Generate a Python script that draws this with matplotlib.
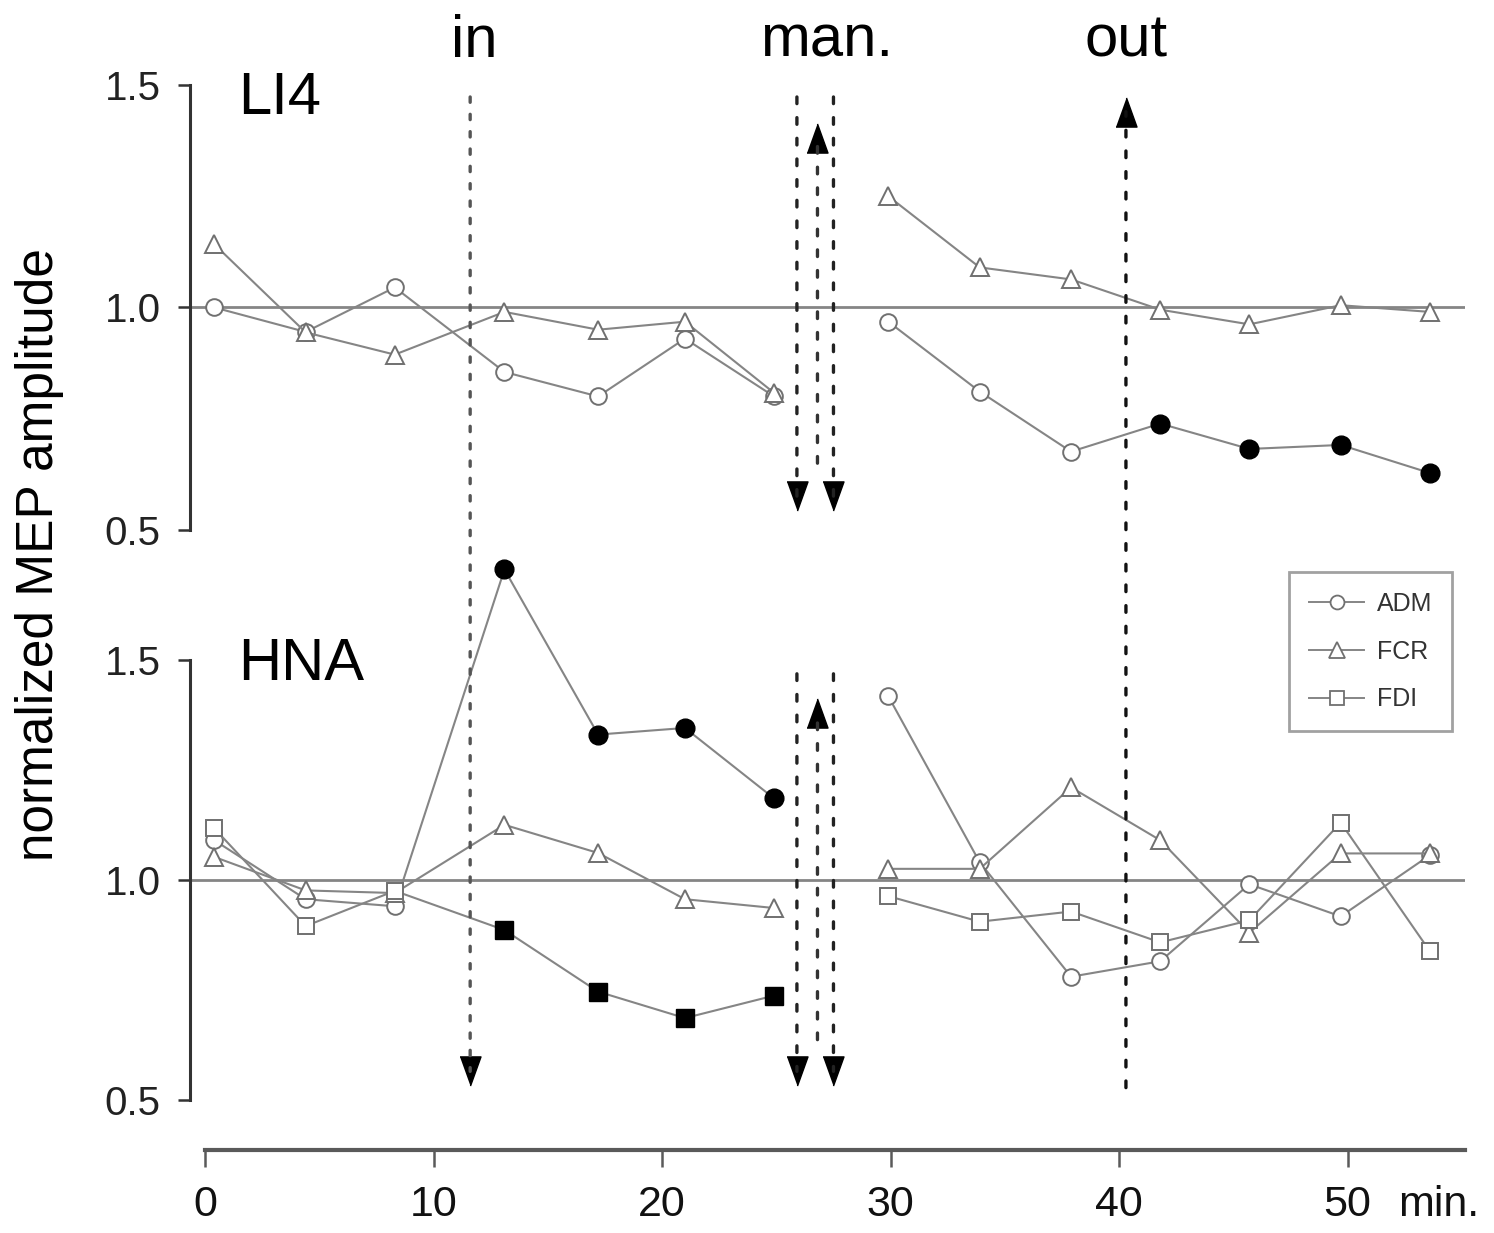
import matplotlib

matplotlib.use("Agg")

import matplotlib.pyplot as plt
from matplotlib.lines import Line2D
from matplotlib.patches import ConnectionPatch

plt.rcParams["font.family"] = ["Liberation Sans", "DejaVu Sans"]

# sampling times (min); the first 7 points are before the manipulation
MINUTES = [0.4, 4.4, 8.3, 13.1, 17.2, 21.0, 24.9,
           29.9, 33.9, 37.9, 41.8, 45.7, 49.7, 53.6]
SPLIT = 7

# LI4 panel
LI4_ADM = [1.00, 0.945, 1.045, 0.855, 0.80, 0.93, 0.80,
           0.968, 0.811, 0.676, 0.739, 0.682, 0.691, 0.628]
LI4_FCR = [1.142, 0.944, 0.894, 0.99, 0.95, 0.968, 0.808,
           1.25, 1.09, 1.063, 0.995, 0.962, 1.005, 0.99]
LI4_ADM_SIG = [10, 11, 12, 13]

# HNA panel
HNA_ADM = [1.09, 0.956, 0.94, 1.705, 1.33, 1.345, 1.185,
           1.417, 1.04, 0.78, 0.815, 0.99, 0.917, 1.056]
HNA_FCR = [1.052, 0.976, 0.97, 1.125, 1.061, 0.956, 0.936,
           1.025, 1.025, 1.21, 1.09, 0.88, 1.06, 1.06]
HNA_FDI = [1.117, 0.895, 0.975, 0.886, 0.746, 0.686, 0.737,
           0.963, 0.905, 0.928, 0.858, 0.908, 1.13, 0.838]
HNA_SIG = [3, 4, 5, 6]

Y_TICKS = [0.5, 1.0, 1.5]
X_TICKS = [0, 10, 20, 30, 40, 50]

# needle events (min)
IN_X = 11.6
MAN_DOWN_X = [25.9, 27.5]
MAN_UP_X = 26.8
OUT_X = 40.3

LINE = "#858585"
EDGE = "#707070"
SPINE = "#333333"

# slim arrow heads
HEAD_DOWN = [(-0.36, 0.5), (0.36, 0.5), (0, -0.5)]
HEAD_UP = [(-0.36, -0.5), (0.36, -0.5), (0, 0.5)]


def draw_series(ax, values, marker, ms, sig=()):
    for seg in (slice(0, SPLIT), slice(SPLIT, None)):
        ax.plot(MINUTES[seg], values[seg], color=LINE, lw=1.5,
                marker=marker, ms=ms, mfc="white", mec=EDGE, mew=1.4,
                zorder=3, clip_on=False)
    if sig:
        ax.plot([MINUTES[i] for i in sig], [values[i] for i in sig],
                ls="none", marker=marker, ms=ms + 1.5, color="black",
                zorder=4, clip_on=False)


def style_panel(ax):
    ax.set_facecolor("none")
    ax.set_xlim(-0.66, 55.14)
    for side in ("top", "right"):
        ax.spines[side].set_visible(False)
    ax.spines["left"].set_bounds(0.5, 1.5)
    ax.spines["left"].set_linewidth(2.2)
    ax.spines["left"].set_color(SPINE)
    ax.set_yticks(Y_TICKS)
    ax.set_yticklabels([f"{v:.1f}" for v in Y_TICKS])
    ax.tick_params(axis="y", direction="out", length=9, width=1.8,
                   color=SPINE, pad=12, labelsize=29, labelcolor="#222222")
    ax.axhline(1.0, color=LINE, lw=2.0, zorder=1)


def arrow(fig, x, ax_a, y_a, ax_b, y_b, head, color, dash):
    con = ConnectionPatch(xyA=(x, y_a), coordsA=ax_a.transData,
                          xyB=(x, y_b), coordsB=ax_b.transData,
                          color=color, lw=2.4, linestyle=(0, dash))
    fig.add_artist(con)
    ax_b.plot(x, y_b, marker=head, ms=21, color="black", zorder=6,
              clip_on=False)


def main():
    fig = plt.figure(figsize=(14.94, 12.33), dpi=100)
    ax_top = fig.add_axes([0.1272, 0.5702, 0.8534, 0.3609])
    ax_bot = fig.add_axes([0.1272, 0.1079, 0.8534, 0.4503])

    ax_top.set_ylim(0.5, 1.5)
    ax_bot.set_ylim(0.5, 1.7612)
    style_panel(ax_top)
    style_panel(ax_bot)

    ax_top.spines["bottom"].set_visible(False)
    ax_top.set_xticks([])

    ax_bot.spines["bottom"].set_position(("outward", 36))
    ax_bot.spines["bottom"].set_bounds(0, 55.14)
    ax_bot.spines["bottom"].set_linewidth(3.0)
    ax_bot.spines["bottom"].set_color("#5a5a5a")
    ax_bot.set_xticks(X_TICKS)
    ax_bot.set_xticklabels([str(t) for t in X_TICKS])
    ax_bot.tick_params(axis="x", direction="out", length=12, width=1.8,
                       color="#5a5a5a", pad=13, labelsize=31,
                       labelcolor="#111111")
    ax_bot.annotate("min.", xy=(52.2, 0.5), xycoords="data",
                    xytext=(0, -(36 + 12 + 13)), textcoords="offset points",
                    va="top", ha="left", fontsize=31, color="#111111",
                    annotation_clip=False)

    draw_series(ax_top, LI4_ADM, "o", 12, LI4_ADM_SIG)
    draw_series(ax_top, LI4_FCR, "^", 13)

    draw_series(ax_bot, HNA_ADM, "o", 12, HNA_SIG)
    draw_series(ax_bot, HNA_FCR, "^", 13)
    draw_series(ax_bot, HNA_FDI, "s", 11.5, HNA_SIG)

    ax_top.text(1.44, 1.435, "LI4", fontsize=43, va="baseline", ha="left")
    ax_bot.text(1.44, 1.453, "HNA", fontsize=43, va="baseline", ha="left")

    for x, label in ((IN_X + 0.2, "in"), (27.2, "man."), (OUT_X, "out")):
        ax_top.text(x, 1.563, label, fontsize=43, ha="center",
                    va="baseline", clip_on=False)

    # needle insertion, manipulation and withdrawal markers
    dots = (1.6, 3.6)
    dashes = (2.0, 4.2)
    arrow(fig, IN_X, ax_top, 1.473, ax_bot, 0.565, HEAD_DOWN, "#555555", dots)
    for x in MAN_DOWN_X:
        arrow(fig, x, ax_top, 1.473, ax_top, 0.576, HEAD_DOWN, "#222222", dashes)
        arrow(fig, x, ax_bot, 1.468, ax_bot, 0.565, HEAD_DOWN, "#222222", dashes)
    arrow(fig, MAN_UP_X, ax_top, 0.65, ax_top, 1.38, HEAD_UP, "#333333", dashes)
    arrow(fig, MAN_UP_X, ax_bot, 0.637, ax_bot, 1.38, HEAD_UP, "#333333", dashes)
    arrow(fig, OUT_X, ax_bot, 0.528, ax_top, 1.44, HEAD_UP, "#111111", dashes)

    handles = [
        Line2D([], [], color=LINE, lw=1.4, marker=m, ms=ms, mfc="white",
               mec=EDGE, mew=1.3)
        for m, ms in (("o", 10), ("^", 11), ("s", 10))
    ]
    leg = ax_bot.legend(handles, ["ADM", "FCR", "FDI"],
                        loc="upper right",
                        bbox_to_anchor=(1452 / 1494, (1233 - 572) / 1233),
                        bbox_transform=fig.transFigure, borderaxespad=0,
                        fancybox=False, frameon=True, handlelength=2.2,
                        handletextpad=0.5, labelspacing=0.95, borderpad=0.8,
                        prop={"size": 18})
    leg.get_frame().set_edgecolor("#8a8a8a")
    leg.get_frame().set_linewidth(2.0)
    for t in leg.get_texts():
        t.set_color("#333333")

    fig.text(40 / 1494, (1233 - 555) / 1233, "normalized MEP amplitude",
             rotation=90, ha="center", va="center", fontsize=37)

    fig.savefig("out.png", dpi=100)
    plt.close(fig)


if __name__ == "__main__":
    main()
